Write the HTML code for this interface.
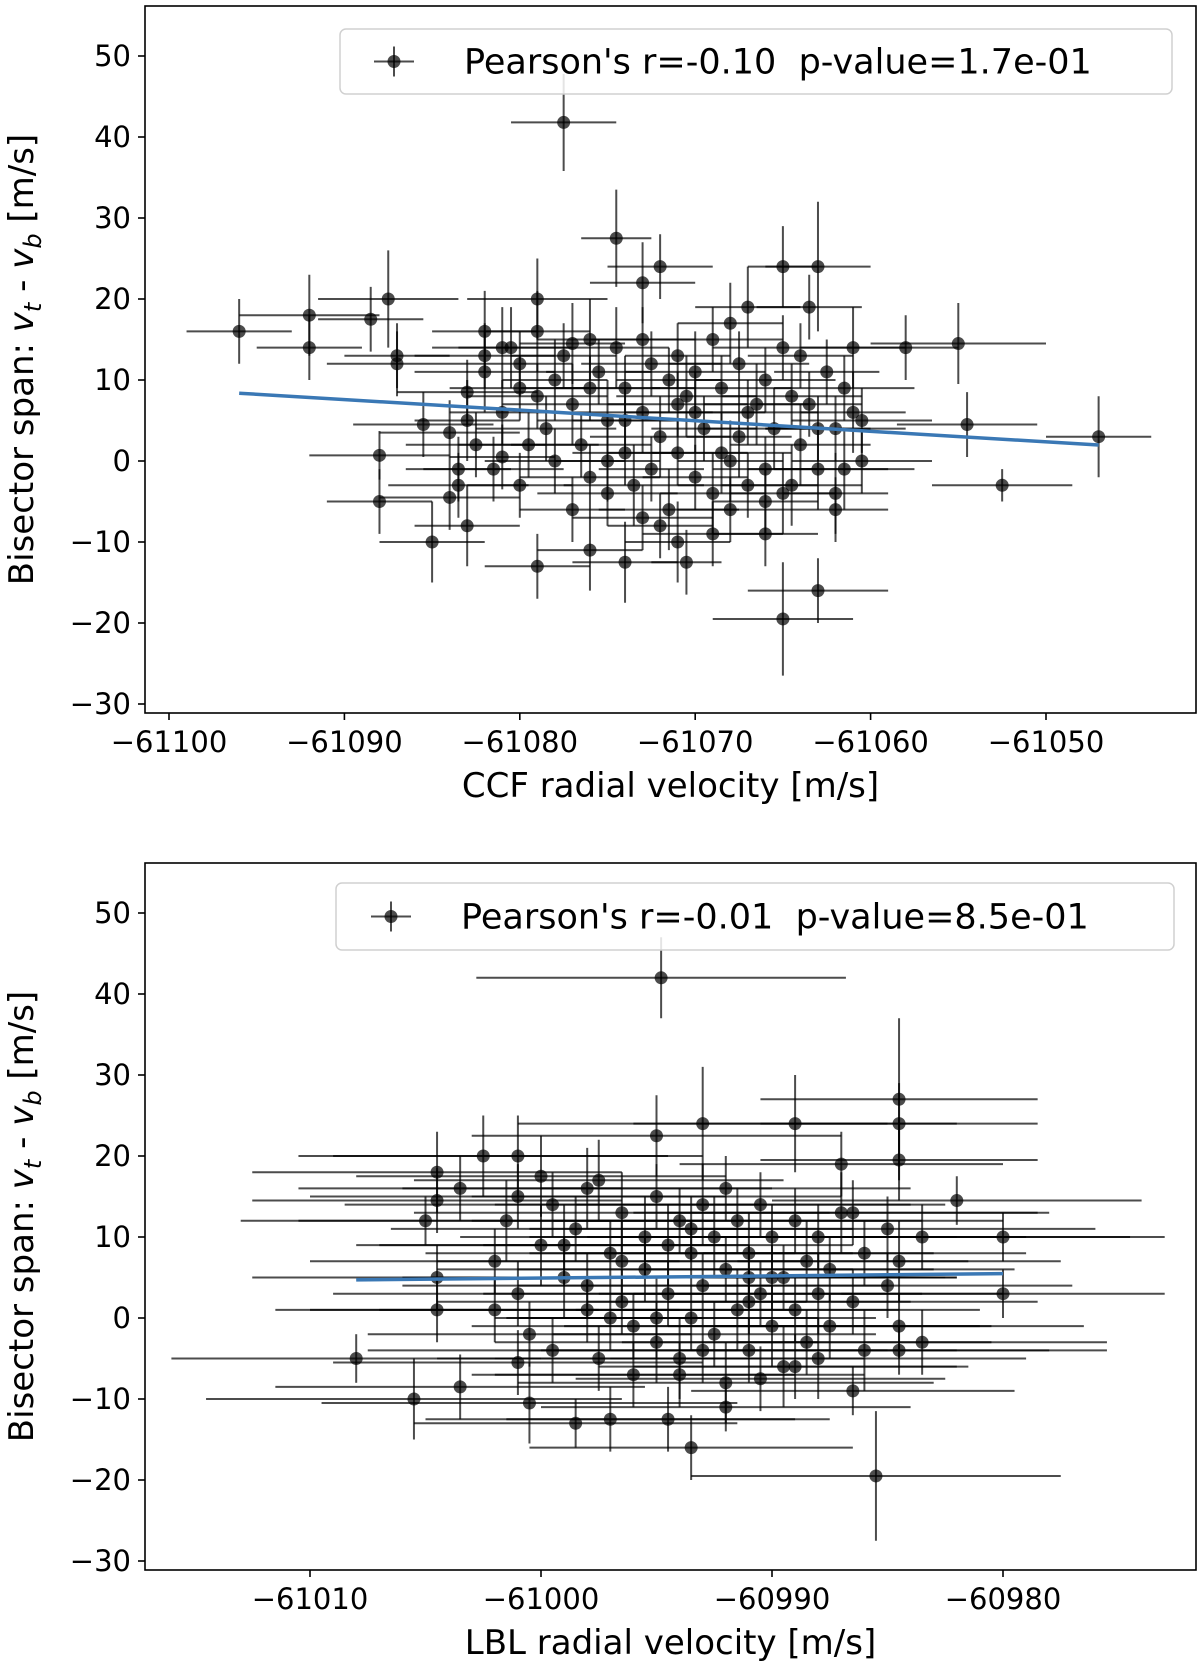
<!DOCTYPE html>
<html><head><meta charset="utf-8"><style>
html,body{margin:0;padding:0;background:#fff}
svg{display:block;font-family:"DejaVu Sans","Liberation Sans",sans-serif}
</style></head><body>
<svg id="fig" width="1200" height="1665" viewBox="0 0 1200 1665" xmlns="http://www.w3.org/2000/svg"></svg>
<script>
// ===== Top panel data (CCF) =====
const ccfX = [-61096,-61092,-61092,-61088.5,-61087.5,-61087,-61087,-61085.5,-61088,-61088,-61085,-61084,-61084,-61083.5,-61083.5,-61083,-61083,-61082,-61082,-61081,-61080,-61080,-61079,-61079,-61077.5,-61077,-61076,-61074.5,-61074,-61073,-61072,-61071,-61070.5,-61068,-61067,-61066,-61065,-61065,-61063,-61063,-61063.5,-61062,-61061,-61058,-61055,-61054.5,-61052.5,-61047,
-61082,-61081,-61081,-61080,-61079.5,-61079,-61078.5,-61078,-61078,-61077.5,-61077,-61076.5,-61076,-61076,-61075.5,-61075,-61075,-61074.5,-61074,-61074,-61073.5,-61073,-61073,-61072.5,-61072.5,-61072,-61071.5,-61071.5,-61071,-61071,-61070.5,-61070,-61070,-61069.5,-61069,-61069,-61068.5,-61068.5,-61068,-61067.5,-61067.5,-61067,-61066.5,-61066,-61066,-61065.5,-61065,-61065,-61064.5,-61064,-61064,-61063.5,-61063,-61062.5,-61062,-61062,-61061.5,-61061,-61060.5,-61060.5,-61080.5,-61081.5,-61083,-61082.5,-61079,-61077,-61076,-61075,-61073,-61072,-61070,-61069,-61068,-61067,-61066,-61064.5,-61063,-61061.5,-61074,-61071];
const ccfY = [16,14,18,17.5,20,12,13,4.5,0.7,-5,-10,-4.5,3.5,-1,-3,8.5,-8,16,13,0.5,9,-3,20,-13,41.8,-6,-11,27.5,-12.5,22,24,-10,-12.5,17,19,-9,24,-19.5,24,-16,19,-6,14,14,14.5,4.5,-3,3,
11,6,14,12,2,16,4,10,0,13,7,2,15,-2,11,5,-4,14,9,1,-3,15,6,12,-1,3,10,-6,13,1,8,-2,11,4,15,-4,9,1,-6,12,3,-3,7,10,-1,4,14,-4,8,13,2,7,-1,11,4,-4,9,6,5,0,14,-1,5,2,8,14.5,9,0,-7,-8,6,-9,0,6,-5,-3,4,-1,5,7];
const ccfXerr = [3,3,4,3,4,4,3,4,4,3,3,4,4,3,4,4,3,3,4,3,4,3,4,3,3,3,3,2,3,3,3,3,2,3,3,3,2,4,3,4,3,3,3,3,5,4,4,3,
4,3,4,3,4,3,4,3,4,3,4,4,3,4,3,4,4,3,4,3,4,3,4,4,3,4,3,4,3,4,4,3,4,3,4,3,4,4,3,4,3,4,3,4,3,4,4,3,4,3,4,3,4,3,4,3,4,3,4,4,3,4,3,4,4,3,4,3,4,3,4,4,3,4,3,4,3,4,3,4];
const ccfYerr = [4,4,5,4,6,4,4,4,3,4,5,4,4,4,4,4,5,5,4,4,4,4,5,4,6,4,5,6,5,5,4,5,4,5,5,4,5,7,8,4,4,4,5,4,5,4,2,5,
5,4,5,4,4,5,4,5,4,4,5,4,5,4,4,5,4,5,4,4,5,4,5,4,4,5,4,5,4,4,5,4,5,4,4,5,4,5,4,4,5,4,5,4,4,5,4,5,4,4,5,4,5,4,4,5,4,5,4,4,5,4,5,4,4,5,4,5,4,4,5,4,5,4,4,5,4,5,4,4];
const ccfXTicks = [-61100,-61090,-61080,-61070,-61060,-61050];
const ccfYTicks = [-30,-20,-10,0,10,20,30,40,50];
const ccfLegend = "Pearson's r=-0.10  p-value=1.7e-01";

// ===== Bottom panel data (LBL) =====
const lblX = [-61008,-61005.5,-61003.5,-61001,-61000.5,-60998.5,-60997,-60994.5,-60993.5,-60992,-60985.5,-60986.5,-60994.8,-60995,-60993,-60989,-60984.5,-60984.5,-60984.5,-60982,-60980,-60980,-60983.5,-60984.5,-61004.5,-61002.5,-61001,-61003.5,-61004.5,-61005,-61004.5,-61004.5,-61002,-61000,-60987,
-61002,-61001.5,-61001,-61000.5,-61000,-60999.5,-60999.5,-60999,-60998.5,-60998,-60998,-60997.5,-60997,-60996.5,-60996.5,-60996,-60995.5,-60995.5,-60995,-60995,-60994.5,-60994,-60994,-60993.5,-60993.5,-60993,-60993,-60992.5,-60992.5,-60992,-60992,-60991.5,-60991.5,-60991,-60991,-60990.5,-60990.5,-60990,-60990,-60989.5,-60989.5,-60989,-60989,-60988.5,-60988.5,-60988,-60988,-60987.5,-60987.5,-60987,-60986.5,-60986,-60986,-60985,-60985,-60984.5,-60984.5,-60983.5,-60997.5,-60996,-60994,-60992,-60990.5,-60989,-60999,-61001,-60998,-60995,-60993,-60991,-60996.5,-60993.5,-60990,-60988,-60986.5,-60991,-60994.5,-60997];
const lblY = [-5,-10,-8.5,-5.5,-10.5,-13,-12.5,-12.5,-16,-11,-19.5,-9,42,22.5,24,24,27,24,19.5,14.5,10,3,-3,-4,18,20,20,16,14.5,12,5,1,1,17.5,19,
7,12,3,-2,9,14,-4,5,11,1,16,-5,8,13,2,-1,10,6,15,-3,3,12,-5,8,0,14,4,-2,10,6,16,1,12,-4,8,3,14,-1,10,5,-6,12,1,7,-3,10,3,-1,6,13,2,8,-4,11,4,7,-1,10,17,-7,-7,-8,-7.5,-6,9,15,4,0,-4,5,7,11,5,-5,13,2,9,0];
const lblXerr = [8,9,8,8,9,7,8,7,7,8,8,7,8,8,8,7,6,6,6,8,7,7,8,9,8,8,8,7,8,8,8,7,8,8,7,
8,9,8,7,8,9,8,7,8,9,8,7,8,9,8,7,8,9,8,7,8,9,8,7,8,9,8,7,8,9,8,7,8,9,8,7,8,9,8,7,8,9,8,7,8,9,8,7,8,9,8,7,8,9,8,7,8,9,8,7,8,9,8,7,8,9,8,7,8,9,8,7,8,9,8,7,8];
const lblYerr = [3,5,4,4,5,3,4,4,4,3,8,3,5,5,7,6,10,5,5,3,3,3,4,3,5,5,5,4,4,3,4,4,4,5,4,
4,5,4,4,5,4,4,5,4,4,5,4,4,5,4,4,5,4,4,5,4,4,5,4,4,5,4,4,5,4,4,5,4,4,5,4,4,5,4,4,5,4,4,5,4,4,5,4,4,5,4,4,5,4,4,5,4,4,5,4,4,5,4,4,5,4,4,5,4,4,5,4,4,5,4,4,5];
const lblXTicks = [-61010,-61000,-60990,-60980];
const lblYTicks = [-30,-20,-10,0,10,20,30,40,50];
const lblLegend = "Pearson's r=-0.01  p-value=8.5e-01";

const NS = "http://www.w3.org/2000/svg";
const fig = document.getElementById('fig');
function el(tag, attrs, parent){
  const e = document.createElementNS(NS, tag);
  for (const k in attrs) e.setAttribute(k, attrs[k]);
  (parent||fig).appendChild(e);
  return e;
}
function fmt(v){ return (v<0?"\u2212":"") + Math.abs(v); }

function panel(cfg){
  const g = el('g', {});
  
  
  const sx = v => cfg.x0px + (v - cfg.x0v) * cfg.xk;
  const sy = v => cfg.y0px - (v - cfg.y0v) * cfg.yk;
  const pts = el('g', {}, g);
  
  
  for (let i = 0; i < cfg.xs.length; i++){
    const x = cfg.xs[i], y = cfg.ys[i];
    const xe = cfg.xe[i] ?? 4, ye = cfg.ye[i] ?? 4;
    const h = el('line', {x1:sx(x-xe), x2:sx(x+xe), y1:sy(y), y2:sy(y), stroke:'#000', 'stroke-width':2, 'stroke-opacity':0.7}, pts);
    
    
    const v = el('line', {x1:sx(x), x2:sx(x), y1:sy(y-ye), y2:sy(y+ye), stroke:'#000', 'stroke-width':2, 'stroke-opacity':0.7}, pts);
    
    
    const c = el('circle', {cx:sx(x), cy:sy(y), r:6.5, fill:'#000', 'fill-opacity':0.7}, pts);
    
    
  }
  const n = cfg.xs.length;
  let mx=0,my=0; for(let i=0;i<n;i++){mx+=cfg.xs[i];my+=cfg.ys[i];} mx/=n; my/=n;
  let sxy=0,sxx=0; for(let i=0;i<n;i++){sxy+=(cfg.xs[i]-mx)*(cfg.ys[i]-my); sxx+=(cfg.xs[i]-mx)**2;}
  const b = sxy/sxx, a = my - b*mx;
  const xmin = Math.min(...cfg.xs), xmax = Math.max(...cfg.xs);
  const fl = el('line', {x1:sx(xmin), y1:sy(a+b*xmin), x2:sx(xmax), y2:sy(a+b*xmax), stroke:'#3a78b5', 'stroke-width':3.5}, g);
  
  
  const fr = el('rect', {x:cfg.L, y:cfg.T, width:cfg.R-cfg.L, height:cfg.B-cfg.T, fill:'none', stroke:'#000', 'stroke-width':1.6}, g);
  
  
  cfg.xt.forEach(t => {
    const px = sx(t);
    const tk = el('line', {x1:px, x2:px, y1:cfg.B, y2:cfg.B+7, stroke:'#000', 'stroke-width':1.6}, g);
    
    
    const tx = el('text', {x:px, y:cfg.B+39, 'text-anchor':'middle', 'font-size':29, fill:'#000'}, g);
    tx.textContent = fmt(t);
    
    
  });
  cfg.yt.forEach(t => {
    const py = sy(t);
    const tk = el('line', {x1:cfg.L-7, x2:cfg.L, y1:py, y2:py, stroke:'#000', 'stroke-width':1.6}, g);
    
    
    const tx = el('text', {x:cfg.L-14, y:py+10, 'text-anchor':'end', 'font-size':29, fill:'#000'}, g);
    tx.textContent = fmt(t);
    
    
  });
  const xl = el('text', {x:(cfg.L+cfg.R)/2, y:cfg.B+84, 'text-anchor':'middle', 'font-size':34, fill:'#000'}, g);
  xl.textContent = cfg.xlabel;
  
  
  const cy = (cfg.T+cfg.B)/2;
  const yl = el('text', {x:0, y:0, 'text-anchor':'middle', 'font-size':34, fill:'#000', transform:`translate(33,${cy}) rotate(-90)`}, g);
  yl.innerHTML = 'Bisector span: <tspan font-style="italic">v</tspan><tspan font-style="italic" font-size="24" dy="8">t</tspan><tspan dy="-8"> - </tspan><tspan font-style="italic">v</tspan><tspan font-style="italic" font-size="24" dy="8">b</tspan><tspan dy="-8"> [m/s]</tspan>';
  
  
  const lg = el('g', {}, g);
  
  
  el('rect', {x:cfg.lgx, y:cfg.lgy, width:cfg.lgw, height:cfg.lgh, rx:6, fill:'#fff', 'fill-opacity':0.85, stroke:'#d0d0d0', 'stroke-width':1.5}, lg);
  const my2 = cfg.lgy + cfg.lgh/2;
  el('line', {x1:cfg.mx-20, x2:cfg.mx+20, y1:my2, y2:my2, stroke:'#000', 'stroke-width':2, 'stroke-opacity':0.7}, lg);
  el('line', {x1:cfg.mx, x2:cfg.mx, y1:my2-15, y2:my2+15, stroke:'#000', 'stroke-width':2, 'stroke-opacity':0.7}, lg);
  el('circle', {cx:cfg.mx, cy:my2, r:6.5, fill:'#000', 'fill-opacity':0.7}, lg);
  const lt = el('text', {x:cfg.mx+70, y:my2+12, 'font-size':35, fill:'#000', style:'white-space:pre'}, lg);
  lt.textContent = cfg.legend;
  
  
}

panel({name:'ccf-panel', xs:ccfX, ys:ccfY, xe:ccfXerr, ye:ccfYerr, xt:ccfXTicks, yt:ccfYTicks,
  L:145, R:1196, T:6, B:713, x0px:169, x0v:-61100, xk:17.54, y0px:704, y0v:-30, yk:8.1,
  xlabel:'CCF radial velocity [m/s]', legend:ccfLegend, lgx:340, lgy:29, lgw:832, lgh:65, mx:394});
panel({name:'lbl-panel', xs:lblX, ys:lblY, xe:lblXerr, ye:lblYerr, xt:lblXTicks, yt:lblYTicks,
  L:145, R:1196, T:863, B:1570, x0px:310, x0v:-61010, xk:23.1, y0px:1561, y0v:-30, yk:8.1,
  xlabel:'LBL radial velocity [m/s]', legend:lblLegend, lgx:336, lgy:883, lgw:838, lgh:67, mx:391});
</script>
</body></html>
